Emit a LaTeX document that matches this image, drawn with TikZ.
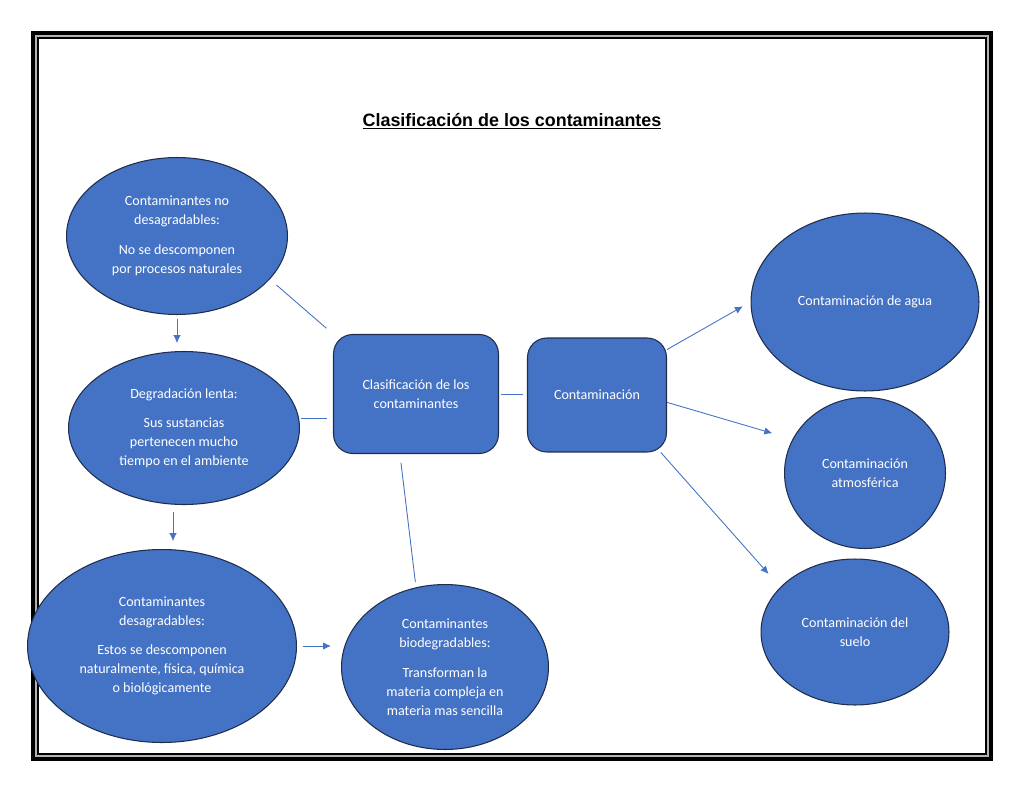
\documentclass[tikz,border=0pt]{standalone}
\usepackage{fontspec}
\setmainfont{Carlito}
\newfontfamily\titlefont{Liberation Sans}
\usetikzlibrary{calc,shapes.geometric,arrows.meta}
\definecolor{officeblue}{HTML}{4472C4}
\definecolor{edgenavy}{HTML}{1F2D4D}

\begin{document}
\begin{tikzpicture}[x=0.02cm,y=-0.02cm,
    blob/.style={ellipse,fill=officeblue,draw=edgenavy,line width=.6pt,inner sep=0pt,
      text=white,align=center,font=\fontsize{8}{10.8}\selectfont},
    box/.style={rectangle,rounded corners=11pt,fill=officeblue,draw=edgenavy,line width=.6pt,
      inner sep=0pt,text=white,align=center,font=\fontsize{8}{10.8}\selectfont},
    link/.style={draw=officeblue,line width=.5pt},
    arr/.style={link,-{Latex[length=4.5pt,width=4.2pt]}}]
  \useasboundingbox (0,0) rectangle (1024,791);
  % marco
  \draw[line width=2.3pt] (33,33) rectangle (991,759);
  \draw[line width=1.1pt,gray!60] (36,36) rectangle (988,756);
  \draw[line width=1.1pt] (38,38) rectangle (986,754);
  \node[anchor=base] (titulo) at (512,126)
    {\titlefont\bfseries\fontsize{10.2}{12}\selectfont\underline{Clasificación de los contaminantes}};

  % columna izquierda
  \node[blob,minimum width=4.42cm,minimum height=3.14cm] (noDeg) at (177,236)
    {Contaminantes no\\desagradables:\\[6pt]No se descomponen\\por procesos naturales};
  \node[blob,minimum width=4.62cm,minimum height=3.06cm] (lenta) at (184,428)
    {Degradación lenta:\\[6pt]Sus sustancias\\pertenecen mucho\\tiempo en el ambiente};
  \node[blob,minimum width=5.38cm,minimum height=3.86cm] (desag) at (162,646)
    {Contaminantes\\desagradables:\\[6pt]Estos se descomponen\\naturalmente, física, química\\o biológicamente};
  \node[blob,minimum width=4.14cm,minimum height=3.3cm] (bio) at (445,667)
    {Contaminantes\\biodegradables:\\[6pt]Transforman la\\materia compleja en\\materia mas sencilla};

  % centro
  \node[box,minimum width=3.3cm,minimum height=2.38cm] (clasif) at (416,394)
    {Clasificación de los\\contaminantes};
  \node[box,minimum width=2.78cm,minimum height=2.28cm] (contam) at (597,395)
    {Contaminación};

  % columna derecha
  \node[blob,minimum width=4.56cm,minimum height=3.56cm] (agua) at (865,302)
    {Contaminación de agua};
  \node[blob,minimum width=3.22cm,minimum height=3.02cm] (atmos) at (865,473)
    {Contaminación\\atmosférica};
  \node[blob,minimum width=3.76cm,minimum height=2.92cm] (suelo) at (855,632)
    {Contaminación del\\suelo};

  % conectores
  \coordinate (mid) at ($(lenta.south)!.5!(desag.north)$);
  \draw[arr,shorten <=2pt,shorten >=4.5pt] (noDeg.south) -- (noDeg.south |- lenta.north);
  \draw[arr,shorten <=4pt,shorten >=4.5pt] (mid |- lenta.south) -- (mid |- desag.north);
  \draw[arr,shorten <=3.4pt,shorten >=5.7pt] (desag.east) -- (desag.east -| bio.west);
  \draw[link,shorten <=5pt,shorten >=5pt] (noDeg.-25) -- (clasif.north west);
  \draw[link,shorten <=1pt,shorten >=3.4pt] (lenta.5) -- (lenta.5 -| clasif.west);
  \draw[link,shorten <=5pt,shorten >=3pt] (clasif.255) -- (bio.110);
  \draw[link,shorten <=1pt,shorten >=2.5pt] (clasif.east) -- (clasif.east -| contam.west);
  \draw[arr,shorten >=5pt] (contam.33) -- (agua.west);
  \draw[arr,shorten >=12pt] (contam.-6) -- (atmos.155);
  \draw[arr,shorten >=10pt] (contam.-42) -- (suelo.149);
\end{tikzpicture}
\end{document}
